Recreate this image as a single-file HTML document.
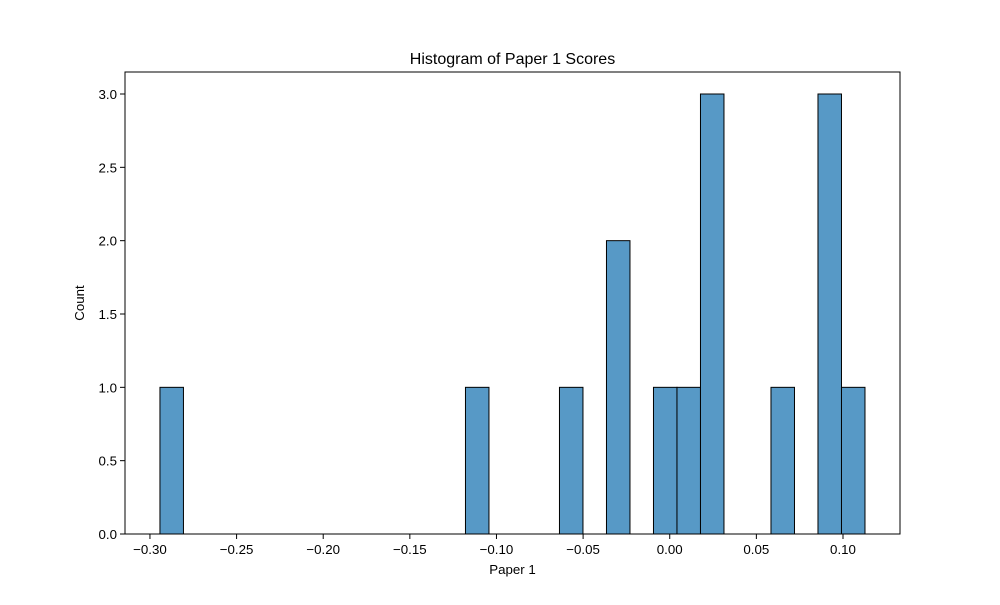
<!DOCTYPE html>
<html><head><meta charset="utf-8"><style>
body{margin:0;background:#fff;}
svg text{font-family:"Liberation Sans","DejaVu Sans",sans-serif;fill:#000;}
</style></head><body>
<svg id="chart" width="1000" height="600" xmlns="http://www.w3.org/2000/svg">
<rect width="1000" height="600" fill="#fff"/>
<text x="512.5" y="64" font-size="16" text-anchor="middle">Histogram of Paper 1 Scores</text>
<g id="bars"></g>
<g id="axes"></g>
<text x="512.5" y="574" font-size="13.3" text-anchor="middle">Paper 1</text>
<text transform="translate(84,303) rotate(-90)" font-size="13.3" text-anchor="middle">Count</text>
</svg>
<script>
const binStart = -0.29423;
const binWidth = 0.013564;
const counts = [1,0,0,0,0,0,0,0,0,0,0,0,0,1,0,0,0,1,0,2,0,1,1,3,0,0,1,0,3,1];
const xTicks = [-0.30,-0.25,-0.20,-0.15,-0.10,-0.05,0.00,0.05,0.10];
const xTickLabels = ["\u22120.30","\u22120.25","\u22120.20","\u22120.15","\u22120.10","\u22120.05","0.00","0.05","0.10"];
const yTicks = [0,0.5,1.0,1.5,2.0,2.5,3.0];
const yTickLabels = ["0.0","0.5","1.0","1.5","2.0","2.5","3.0"];

const L=125,R=900,T=72,B=534;
const xMin=-0.3144,xMax=0.1329,yMax=3.15;
const xs=v=>L+(v-xMin)/(xMax-xMin)*(R-L);
const ys=v=>B-v/yMax*(B-T);
const NS="http://www.w3.org/2000/svg";
const bars=document.getElementById('bars'), axes=document.getElementById('axes');
counts.forEach((c,i)=>{
  if(c<=0) return;
  const x0=xs(binStart+i*binWidth), x1=xs(binStart+(i+1)*binWidth);
  const r=document.createElementNS(NS,'rect');
  r.setAttribute('x',x0);r.setAttribute('y',ys(c));
  r.setAttribute('width',x1-x0);r.setAttribute('height',B-ys(c));
  r.setAttribute('fill','#5799c6');r.setAttribute('stroke','#000');r.setAttribute('stroke-width','1');
  
  
  bars.appendChild(r);
});
const frame=document.createElementNS(NS,'rect');
frame.setAttribute('x',L);frame.setAttribute('y',T);frame.setAttribute('width',R-L);frame.setAttribute('height',B-T);
frame.setAttribute('fill','none');frame.setAttribute('stroke','#000');frame.setAttribute('stroke-width','1');


axes.appendChild(frame);
xTicks.forEach((v,i)=>{
  const x=xs(v);
  const l=document.createElementNS(NS,'line');
  l.setAttribute('x1',x);l.setAttribute('x2',x);l.setAttribute('y1',B);l.setAttribute('y2',B+5);l.setAttribute('stroke','#000');
  
  
  axes.appendChild(l);
  const t=document.createElementNS(NS,'text');
  t.setAttribute('x',x);t.setAttribute('y',B+20);t.setAttribute('font-size','13.3');t.setAttribute('text-anchor','middle');
  t.textContent=xTickLabels[i];
  
  
  axes.appendChild(t);
});
yTicks.forEach((v,i)=>{
  const y=ys(v);
  const l=document.createElementNS(NS,'line');
  l.setAttribute('x1',L-5);l.setAttribute('x2',L);l.setAttribute('y1',y);l.setAttribute('y2',y);l.setAttribute('stroke','#000');
  
  
  axes.appendChild(l);
  const t=document.createElementNS(NS,'text');
  t.setAttribute('x',L-8);t.setAttribute('y',y+5);t.setAttribute('font-size','13.3');t.setAttribute('text-anchor','end');
  t.textContent=yTickLabels[i];
  
  
  axes.appendChild(t);
});
</script>
</body></html>
